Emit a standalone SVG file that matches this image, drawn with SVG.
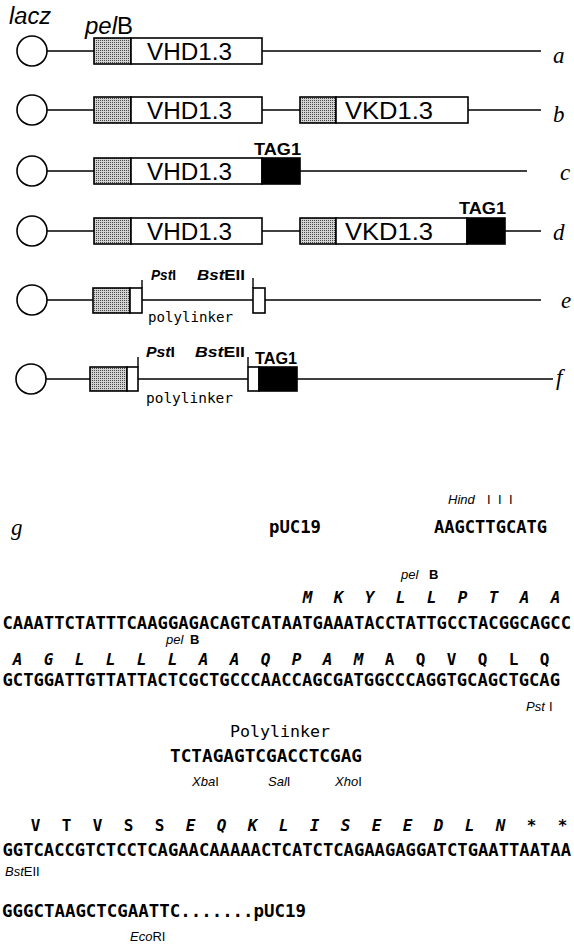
<svg xmlns="http://www.w3.org/2000/svg" width="574" height="950" viewBox="0 0 574 950">
<defs>
<pattern id="stip" width="2" height="2" patternUnits="userSpaceOnUse">
<rect width="2" height="2" fill="#d2d2d2"/>
<rect width="1" height="1" fill="#4a4a4a"/>
</pattern>
</defs>
<style>
.ln{stroke:#000;stroke-width:1.4;fill:none}
.bx{stroke:#000;stroke-width:1.6;fill:#fff}
.sh{stroke:#000;stroke-width:1.6;fill:url(#stip)}
.blk{stroke:#000;stroke-width:1.6;fill:#000}
.cir{stroke:#000;stroke-width:1.6;fill:#fff}
.gene{font-family:'Liberation Sans',Arial,sans-serif;font-size:23px}
.tag{font-family:'Liberation Sans',Arial,sans-serif;font-size:16px;font-weight:bold}
.lab{font-family:'Liberation Serif','Times New Roman',serif;font-style:italic;font-size:23px}
.site{font-family:'Liberation Sans',Arial,sans-serif;font-size:14px;font-weight:bold}
.top{font-family:'Liberation Sans',Arial,sans-serif;font-size:23px}
.poly{font-family:'DejaVu Sans Mono',monospace;font-size:14px}
.seq{font-family:'DejaVu Sans Mono',monospace;font-size:17px;font-weight:bold}
.aa{font-family:'DejaVu Sans Mono',monospace;font-size:16px;font-weight:bold;text-anchor:middle}
.note{font-family:'Liberation Sans',Arial,sans-serif;font-size:13px}
.big{font-family:'DejaVu Sans Mono',monospace;font-size:16px}
.it{font-style:italic}
.b{font-weight:bold}
</style>

<g id="labels-top">
<text class="top it" x="9" y="24" textLength="42" lengthAdjust="spacingAndGlyphs">lacz</text>
<text class="top" x="85" y="34" textLength="48" lengthAdjust="spacingAndGlyphs"><tspan class="it">pel</tspan>B</text>
</g>

<g id="connectors">
<line class="ln" x1="47" y1="51" x2="94" y2="51"/>
<line class="ln" x1="262" y1="51" x2="541" y2="51"/>
<line class="ln" x1="47" y1="110" x2="94" y2="110"/>
<line class="ln" x1="262" y1="110" x2="300" y2="110"/>
<line class="ln" x1="468" y1="110" x2="541" y2="110"/>
<line class="ln" x1="47" y1="171" x2="94" y2="171"/>
<line class="ln" x1="300" y1="171" x2="527" y2="171"/>
<line class="ln" x1="47" y1="231" x2="94" y2="231"/>
<line class="ln" x1="262" y1="231" x2="300" y2="231"/>
<line class="ln" x1="505" y1="231" x2="541" y2="231"/>
<line class="ln" x1="47" y1="300" x2="93" y2="300"/>
<line class="ln" x1="142" y1="300" x2="253" y2="300"/>
<line class="ln" x1="265" y1="300" x2="541" y2="300"/>
<line class="ln" x1="46" y1="379" x2="90" y2="379"/>
<line class="ln" x1="138" y1="379" x2="248" y2="379"/>
<line class="ln" x1="297" y1="379" x2="553" y2="379"/>
</g>

<g id="construct-a">
<circle class="cir" cx="32" cy="51" r="15"/>
<rect class="sh" x="94" y="38" width="37" height="26"/>
<rect class="bx" x="131" y="38" width="131" height="26"/>
<text class="gene" x="147" y="60" textLength="85" lengthAdjust="spacingAndGlyphs">VHD1.3</text>
<text class="lab" x="553" y="63">a</text>
</g>

<g id="construct-b">
<circle class="cir" cx="32" cy="110" r="15"/>
<rect class="sh" x="94" y="97" width="37" height="26"/>
<rect class="bx" x="131" y="97" width="131" height="26"/>
<text class="gene" x="147" y="119" textLength="85" lengthAdjust="spacingAndGlyphs">VHD1.3</text>
<rect class="sh" x="300" y="97" width="36" height="26"/>
<rect class="bx" x="336" y="97" width="132" height="26"/>
<text class="gene" x="345" y="119" textLength="88" lengthAdjust="spacingAndGlyphs">VKD1.3</text>
<text class="lab" x="553" y="122">b</text>
</g>

<g id="construct-c">
<circle class="cir" cx="32" cy="171" r="15"/>
<rect class="sh" x="94" y="158" width="37" height="26"/>
<rect class="bx" x="131" y="158" width="131" height="26"/>
<text class="gene" x="147" y="180" textLength="85" lengthAdjust="spacingAndGlyphs">VHD1.3</text>
<rect class="blk" x="262" y="158" width="38" height="26"/>
<text class="tag" x="254" y="155" textLength="47" lengthAdjust="spacingAndGlyphs">TAG1</text>
<text class="lab" x="560" y="180">c</text>
</g>

<g id="construct-d">
<circle class="cir" cx="32" cy="231" r="15"/>
<rect class="sh" x="94" y="218" width="37" height="26"/>
<rect class="bx" x="131" y="218" width="131" height="26"/>
<text class="gene" x="147" y="240" textLength="85" lengthAdjust="spacingAndGlyphs">VHD1.3</text>
<rect class="sh" x="300" y="218" width="36" height="26"/>
<rect class="bx" x="336" y="218" width="131" height="26"/>
<text class="gene" x="345" y="240" textLength="88" lengthAdjust="spacingAndGlyphs">VKD1.3</text>
<rect class="blk" x="467" y="218" width="38" height="26"/>
<text class="tag" x="459" y="214" textLength="47" lengthAdjust="spacingAndGlyphs">TAG1</text>
<text class="lab" x="553" y="240">d</text>
</g>

<g id="construct-e">
<circle class="cir" cx="32" cy="300" r="15"/>
<rect class="sh" x="93" y="288" width="37" height="25"/>
<rect class="bx" x="130" y="288" width="12" height="25"/>
<line class="ln" x1="142" y1="280" x2="142" y2="288"/>
<rect class="bx" x="253" y="288" width="12" height="25"/>
<line class="ln" x1="253" y1="278" x2="253" y2="288"/>
<text class="site" x="151" y="280" textLength="25" lengthAdjust="spacingAndGlyphs"><tspan class="it">Pst</tspan>I</text>
<text class="site" x="197" y="280" textLength="48" lengthAdjust="spacingAndGlyphs"><tspan class="it">Bst</tspan>EII</text>
<text class="poly" x="148" y="322" textLength="85" lengthAdjust="spacingAndGlyphs">polylinker</text>
<text class="lab" x="561" y="308">e</text>
</g>

<g id="construct-f">
<circle class="cir" cx="31" cy="379" r="15"/>
<rect class="sh" x="90" y="367" width="37" height="24"/>
<rect class="bx" x="127" y="367" width="11" height="24"/>
<line class="ln" x1="138" y1="357" x2="138" y2="367"/>
<rect class="bx" x="248" y="367" width="11" height="24"/>
<rect class="blk" x="259" y="367" width="38" height="24"/>
<line class="ln" x1="248" y1="357" x2="248" y2="367"/>
<text class="site" x="146" y="357" textLength="29" lengthAdjust="spacingAndGlyphs"><tspan class="it">Pst</tspan>I</text>
<text class="site" x="195" y="357" textLength="50" lengthAdjust="spacingAndGlyphs"><tspan class="it">Bst</tspan>EII</text>
<text class="tag" x="255" y="364" textLength="42" lengthAdjust="spacingAndGlyphs">TAG1</text>
<text class="poly" x="146" y="403" textLength="87" lengthAdjust="spacingAndGlyphs">polylinker</text>
<text class="lab" x="556" y="385">f</text>
</g>

<g id="sequence-g">
<text class="lab" x="11" y="535" font-size="24">g</text>
<text class="note" y="504" font-size="15"><tspan class="it" x="448">Hind</tspan><tspan x="487">I</tspan><tspan x="498">I</tspan><tspan x="509">I</tspan></text>
<text class="seq" x="269" y="533" textLength="52" lengthAdjust="spacingAndGlyphs">pUC19</text>
<text class="seq" x="434" y="533" textLength="113" lengthAdjust="spacingAndGlyphs">AAGCTTGCATG</text>

<text class="note" y="579" font-size="14"><tspan class="it" x="401">pel</tspan><tspan class="b" x="429">B</tspan></text>
<text class="aa"><tspan class="it" x="307.5 338.5 369.5 400.5 431.5 462.5 493.5 524.5 555.5" y="603">MKYLLPTAA</tspan></text>
<text class="seq" x="2.5" y="629" textLength="568.5" lengthAdjust="spacingAndGlyphs">CAAATTCTATTTCAAGGAGACAGTCATAATGAAATACCTATTGCCTACGGCAGCC</text>

<text class="note" y="644" font-size="14"><tspan class="it" x="166">pel</tspan><tspan class="b" x="190">B</tspan></text>
<text class="aa" font-size="15"><tspan class="it" x="17.5 48.5 79.5 110.5 141.5 172.5 203.5 234.5 265.5 296.5 327.5 358.5" y="665">AGLLLLAAQPAM</tspan><tspan x="389.5 420.5 451.5 482.5 513.5 544.5" y="665">AQVQLQ</tspan></text>
<text class="seq" x="2.5" y="686" textLength="557.5" lengthAdjust="spacingAndGlyphs">GCTGGATTGTTATTACTCGCTGCCCAACCAGCGATGGCCCAGGTGCAGCTGCAG</text>
<text class="note" y="711" font-size="14"><tspan class="it" x="526">Pst</tspan><tspan x="549">I</tspan></text>

<text class="big" x="230" y="737" textLength="100" lengthAdjust="spacingAndGlyphs">Polylinker</text>
<text class="seq" x="170" y="762" textLength="192" lengthAdjust="spacingAndGlyphs">TCTAGAGTCGACCTCGAG</text>
<text class="note" x="192" y="786"><tspan class="it">Xba</tspan>I</text>
<text class="note" x="268" y="786"><tspan class="it">Sal</tspan>I</text>
<text class="note" x="335" y="786"><tspan class="it">Xho</tspan>I</text>

<text class="aa"><tspan x="35.5 66.5 97.5 128.5 159.5" y="831">VTVSS</tspan><tspan class="it" x="190.5 221.5 252.5 283.5 314.5 345.5 376.5 407.5 438.5 469.5 500.5" y="831">EQKLISEEDLN</tspan><tspan x="531.5 562.5" y="831">**</tspan></text>
<text class="seq" x="2.5" y="856" textLength="568.5" lengthAdjust="spacingAndGlyphs">GGTCACCGTCTCCTCAGAACAAAAACTCATCTCAGAAGAGGATCTGAATTAATAA</text>
<text class="note" x="5" y="876"><tspan class="it">Bst</tspan>EII</text>

<text class="seq" x="2" y="917" textLength="304" lengthAdjust="spacingAndGlyphs">GGGCTAAGCTCGAATTC.......pUC19</text>
<text class="note" x="130" y="941" font-size="12"><tspan class="it">Eco</tspan>RI</text>
</g>
</svg>
